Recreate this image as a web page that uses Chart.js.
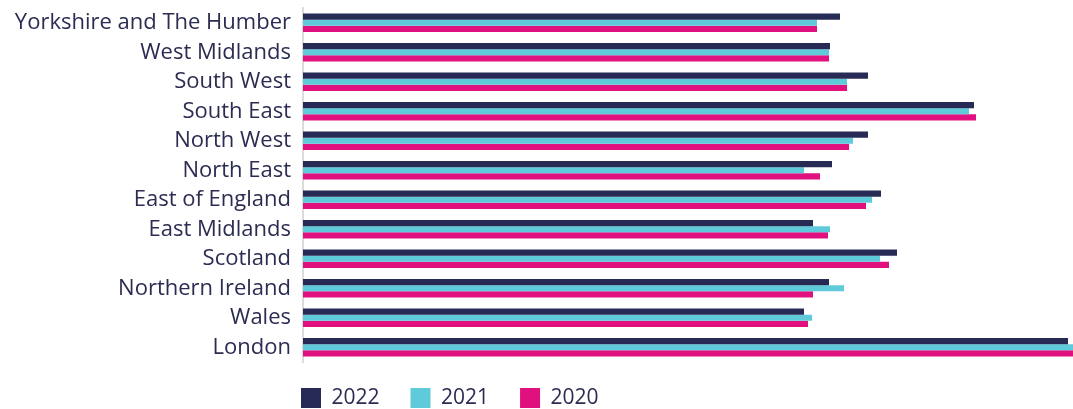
<!DOCTYPE html>
<html>
<head>
<meta charset="utf-8">
<script src="https://cdn.jsdelivr.net/npm/chart.js@4"></script>
<style>
  html, body { margin: 0; padding: 0; overflow: hidden; background: #fff; }
  #wrap { width: 1073px; height: 424px; position: relative; }
</style>
</head>
<body>
<div id="wrap"><canvas id="barChart"></canvas></div>
<script>
const regions = [
  "Yorkshire and The Humber",
  "West Midlands",
  "South West",
  "South East",
  "North West",
  "North East",
  "East of England",
  "East Midlands",
  "Scotland",
  "Northern Ireland",
  "Wales",
  "London",
];
const years = ["2022", "2021", "2020"];
const values2022 = [537, 527, 565, 671, 565, 529, 578, 510, 594, 526, 501, 765];
const values2021 = [514, 526, 544, 666, 550, 501, 569, 527, 577, 541, 509, 770];
const values2020 = [514, 526, 544, 673, 546, 517, 563, 525, 586, 510, 505, 770];
const xMax = 770;

const navy = "#272a54";
const cyan = "#5fcbda";
const magenta = "#e0107f";
const legendPad = 31;

// legend sits under the bars, not centred on the canvas
const legendShift = {
  id: "legendShift",
  beforeDraw(chart) {
    const lg = chart.legend;
    if (!lg) return;
    lg.left = 301 - legendPad;
    lg.top = 388 - legendPad - 0.5;
  },
};

const data = {
  labels: regions,
  datasets: [
    { label: years[0], data: values2022, backgroundColor: navy },
    { label: years[1], data: values2021, backgroundColor: cyan },
    { label: years[2], data: values2020, backgroundColor: magenta },
  ],
};

const config = {
  type: "bar",
  data: data,
  options: {
    indexAxis: "y",
    responsive: true,
    maintainAspectRatio: false,
    animation: false,
    datasets: {
      bar: { barPercentage: 1, categoryPercentage: 0.62 },
    },
    layout: { padding: { top: 8, right: 0, left: 0, bottom: 0 } },
    scales: {
      x: { display: false, min: 0, max: xMax },
      y: {
        grid: { display: false, drawTicks: false },
        border: { display: true, color: "#dcdcdc", width: 2 },
        ticks: {
          color: "#2b2c52",
          padding: 12,
          font: { family: "Open Sans", size: 22 },
        },
        afterFit(scale) {
          scale.width = 303;
          scale.paddingTop = 0;
          scale.paddingBottom = 0;
        },
      },
    },
    plugins: {
      tooltip: { enabled: false },
      legend: {
        position: "bottom",
        align: "start",
        labels: {
          boxWidth: 20,
          boxHeight: 20,
          padding: legendPad,
          color: "#2b2c52",
          font: { family: "Open Sans", size: 21 },
        },
      },
    },
  },
  plugins: [legendShift],
};

const chart = new Chart(document.getElementById("barChart"), config);
</script>
</body>
</html>
